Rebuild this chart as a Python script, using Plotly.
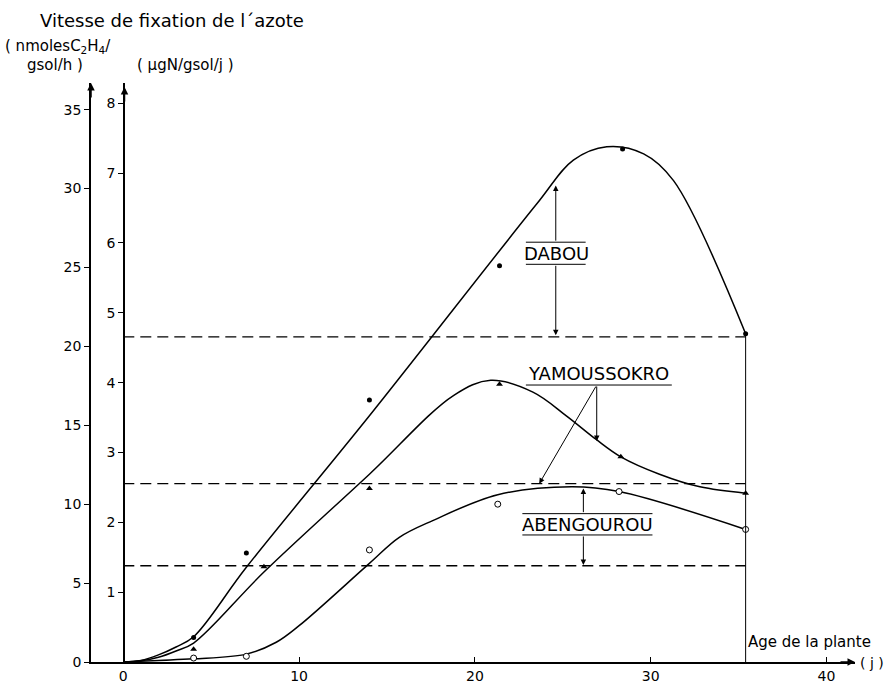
import plotly.graph_objects as go

# Sampling days (plant age, days) and measured nitrogenase activity (nmoles C2H4 / g sol / h)
days = [4, 7, 14, 21.4, 28.4, 35.4]
dabou = [1.56, 6.9, 16.6, 25.1, 32.5, 20.8]
yam_days = [4, 8, 14, 21.4, 28.3, 35.4]
yamoussokro = [0.81, 6.04, 11.0, 17.6, 13.0, 10.7]
aben_days = [4, 7, 14, 21.3, 28.2, 35.4]
abengourou = [0.25, 0.36, 7.1, 10.0, 10.8, 8.4]

# Hand-fitted trend curves
dabou_fit_x = [0, 1, 2, 3, 4, 7, 14, 23.5, 25.6, 27.5, 29.6, 31.3, 35.4]
dabou_fit_y = [0, 0.1, 0.45, 0.95, 1.6, 6.0, 15.6, 29.0, 31.8, 32.65, 32.2, 30.5, 20.8]
yam_fit_x = [0, 1, 2, 3, 4, 8, 14, 18.8, 20.9, 23.3, 25.2, 26.9, 28.3, 30.5, 32.8, 35.4]
yam_fit_y = [0, 0.08, 0.3, 0.7, 1.2, 5.7, 11.9, 16.9, 17.85, 17.1, 15.6, 14.1, 13.0, 11.9, 11.1, 10.7]
aben_fit_x = [0, 2, 4, 7, 8.7, 10, 14, 15.7, 17.6, 21.3, 25.5, 28.2, 35.4]
aben_fit_y = [0, 0.1, 0.2, 0.5, 1.25, 2.3, 6.25, 7.9, 8.96, 10.6, 11.1, 10.8, 8.4]

# Reference (control) levels, nmoles C2H4 / g sol / h
dabou_ref = 20.6
yam_ref = 11.3
aben_ref = 6.1
last_day = 35.4

# Axis ticks
x_ticks = [0, 10, 20, 30, 40]
nmol_ticks = [0, 5, 10, 15, 20, 25, 30, 35]
ugn_ticks = [1, 2, 3, 4, 5, 6, 7, 8]

FONT = "DejaVu Sans"
W, H = 896, 696
ML, MR, MT, MB = 91, 41, 83, 26
PW, PH = W - ML - MR, H - MT - MB
PX_PER_DAY = 17.58
X0_PX = 123.3
XMIN = -(X0_PX - ML) / PX_PER_DAY
XMAX = XMIN + PW / PX_PER_DAY
NMOL_PX = 16.0
UGN_PX = 70.8


def px(xp):
    return (xp - ML) / PW


def py(yp):
    return (H - MB - yp) / PH


fig = go.Figure()

line_style = dict(color="black", width=1.5, shape="spline", smoothing=1.0)
for fx, fy in [(dabou_fit_x, dabou_fit_y), (yam_fit_x, yam_fit_y), (aben_fit_x, aben_fit_y)]:
    fig.add_trace(go.Scatter(x=fx, y=fy, mode="lines", line=line_style,
                             showlegend=False, hoverinfo="skip"))

fig.add_trace(go.Scatter(x=days, y=dabou, mode="markers", cliponaxis=False,
                         marker=dict(symbol="circle", size=5, color="black"),
                         showlegend=False))
fig.add_trace(go.Scatter(x=yam_days, y=yamoussokro, mode="markers", cliponaxis=False,
                         marker=dict(symbol="triangle-up", size=6, color="black"),
                         showlegend=False))
fig.add_trace(go.Scatter(x=aben_days, y=abengourou, mode="markers", cliponaxis=False,
                         marker=dict(symbol="circle", size=6, color="white",
                                     line=dict(color="black", width=1)),
                         showlegend=False))
# invisible trace so the second (µgN) axis is drawn
fig.add_trace(go.Scatter(x=[0], y=[0], yaxis="y2", mode="markers",
                         marker=dict(opacity=0), showlegend=False, hoverinfo="skip"))

shapes = []
for ref in [dabou_ref, yam_ref, aben_ref]:
    shapes.append(dict(type="line", xref="x", yref="y", x0=0, x1=last_day, y0=ref, y1=ref,
                       line=dict(color="black", width=1.3, dash="11px,6px")))
shapes.append(dict(type="line", xref="x", yref="y", x0=last_day, x1=last_day,
                   y0=0, y1=dabou[-1], line=dict(color="black", width=1)))


# over/underlines of the site labels
def hline(x0, x1, y):
    return dict(type="line", xref="x", yref="y", x0=x0, x1=x1, y0=y, y1=y,
                line=dict(color="black", width=1))


shapes += [hline(22.9, 26.3, 26.6), hline(22.9, 26.3, 25.2),
           hline(22.9, 31.2, 17.55),
           hline(22.7, 30.1, 9.4), hline(22.7, 30.1, 8.05)]

annotations = []


def arrow(x, y, ax, ay):
    annotations.append(dict(x=x, y=y, ax=ax, ay=ay, xref="x", yref="y",
                            axref="x", ayref="y", text="", showarrow=True,
                            arrowhead=2, arrowsize=1.1, arrowwidth=1, arrowcolor="black"))


arrow(24.6, 30.2, 24.6, 26.6)
arrow(24.6, 20.7, 24.6, 25.2)
arrow(26.93, 14.0, 26.93, 17.55)
arrow(23.66, 11.3, 26.93, 17.55)
arrow(26.17, 11.0, 26.17, 9.4)
arrow(26.17, 6.15, 26.17, 8.05)


def label(text, x, y, size=18, anchor="center", xref="x", yref="y"):
    annotations.append(dict(text=text, x=x, y=y, xref=xref, yref=yref, showarrow=False,
                            xanchor=anchor, yanchor="middle",
                            font=dict(family=FONT, size=size, color="black")))


label("DABOU", 24.62, 25.9)
label("YAMOUSSOKRO", 27.05, 18.3)
label("ABENGOUROU", 26.4, 8.72)

label("Vitesse de fixation de l´azote", px(38), py(20), size=18, anchor="left",
      xref="paper", yref="paper")
label("( nmolesC<sub>2</sub>H<sub>4</sub>/", px(3), py(46), size=15, anchor="left",
      xref="paper", yref="paper")
label("gsol/h )", px(25), py(65), size=15, anchor="left", xref="paper", yref="paper")
label("( µgN/gsol/j )", px(135), py(65), size=15, anchor="left", xref="paper", yref="paper")
label("Age de la plante", px(746), py(650), size=15, anchor="left",
      xref="paper", yref="paper")
label("( j )", px(858), py(671), size=14, anchor="left", xref="paper", yref="paper")

# axis arrowheads
for x, y, ax, ay in [(0, 1, 0, 16), (px(124.5), py(87), 0, 16), (1, 0, -16, 0)]:
    annotations.append(dict(x=x, y=y, xref="paper", yref="paper", ax=ax, ay=ay,
                            text="", showarrow=True, arrowhead=2, arrowsize=1,
                            arrowwidth=1.5, arrowcolor="black"))

tickfont = dict(family=FONT, size=14, color="black")
fig.update_layout(
    width=W, height=H, autosize=False,
    margin=dict(l=ML, r=MR, t=MT, b=MB, pad=0),
    paper_bgcolor="white", plot_bgcolor="white",
    showlegend=False,
    xaxis=dict(range=[XMIN, XMAX], tickvals=x_ticks, ticks="inside", ticklen=5,
               tickcolor="black", showline=True, linecolor="black", linewidth=1.5,
               showgrid=False, zeroline=False, tickfont=tickfont),
    yaxis=dict(range=[0, PH / NMOL_PX], tickvals=nmol_ticks, ticks="outside", ticklen=5,
               tickcolor="black", showline=True, linecolor="black", linewidth=1.5,
               showgrid=False, zeroline=False, tickfont=tickfont),
    yaxis2=dict(range=[0, PH / UGN_PX], tickvals=ugn_ticks, ticks="outside", ticklen=5,
                tickcolor="black", showline=True, linecolor="black", linewidth=1.5,
                showgrid=False, zeroline=False, overlaying="y", side="left",
                anchor="free", position=px(124), tickfont=tickfont),
    shapes=shapes,
    annotations=annotations,
)

fig.write_html("out.html")
